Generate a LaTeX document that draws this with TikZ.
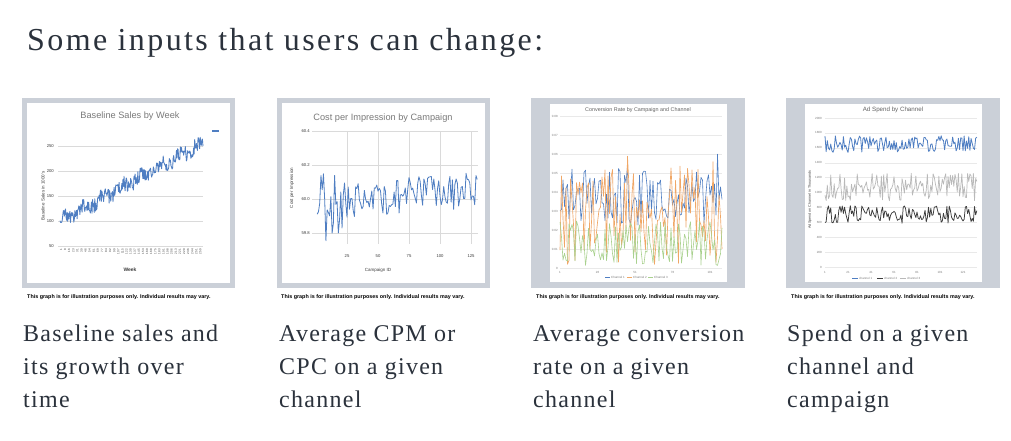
\documentclass[tikz,border=0pt]{standalone}
\usepackage{fontspec}
\setmainfont{Liberation Serif}
\newfontfamily\headfont[LetterSpace=7.5]{Liberation Serif}
\newfontfamily\bodyfont[LetterSpace=5.3]{Liberation Serif}
\newfontfamily\chartsans{Liberation Sans}

\definecolor{ink}{HTML}{2B323C}
\definecolor{framegrey}{HTML}{CBD0D8}
\definecolor{gridgrey}{HTML}{DADADA}
\definecolor{axisgrey}{HTML}{7A7A7A}
\definecolor{sblue}{HTML}{4F7EC2}
\definecolor{sorange}{HTML}{F0A766}
\definecolor{sgreen}{HTML}{A9D18E}
\definecolor{sdark}{HTML}{3C3C3C}
\definecolor{slight}{HTML}{B9B9B9}

\tikzset{
  panelframe/.style={fill=framegrey},
  plotbg/.style={fill=white},
  gridline/.style={draw=gridgrey, line width=0.4pt},
  series/.style={line width=0.65pt, line join=round},
  ticklbl/.style={inner sep=0, text=sdark, font=\chartsans\fontsize{4.2}{5}\selectfont},
  minilbl/.style={inner sep=0, text=axisgrey, font=\chartsans\fontsize{3}{3.5}\selectfont},
  axistitle/.style={inner sep=0, text=sdark, font=\chartsans\fontsize{4.5}{5}\selectfont},
  charttitle/.style={inner sep=0, text=axisgrey, font=\chartsans\fontsize{9.2}{10}\selectfont},
  smalltitle/.style={inner sep=0, text=sdark!80, font=\chartsans\fontsize{5.4}{6}\selectfont},
  disclaimer/.style={inner sep=0, anchor=west, text=black, font=\chartsans\bfseries\fontsize{5.4}{6}\selectfont},
  bodyline/.style={inner sep=0, anchor=base west, text=ink, font=\bodyfont\fontsize{24}{30}\selectfont},
}

\begin{document}
\begin{tikzpicture}[x=1pt,y=-1pt]
\useasboundingbox (0,0) rectangle (1011,441);
\fill[white] (0,0) rectangle (1011,441);

% heading
\node[inner sep=0, anchor=base west, text=ink, font=\headfont\fontsize{32}{36}\selectfont] (heading) at (27,51) {Some inputs that users can change:};

% ---------------- chart 1: baseline sales ----------------
\fill[panelframe] (22,98) rectangle (235,288);
\fill[plotbg] (27,103) rectangle (230,283);
\node[charttitle] (c1title) at (130,116) {Baseline Sales by Week};
\foreach \v in {50,100,150,200,250} {
  \draw[gridline] (58,{246-0.5*(\v-50)}) -- (203,{246-0.5*(\v-50)});
  \node[ticklbl, anchor=east] (c1y\v) at (54,{246-0.5*(\v-50)}) {\v};
}
\pgfmathsetseed{11}
\draw[series, sblue, line width=0.85pt] plot[domain=0:1, samples=260]
  ({60+143*\x},{246-0.5*(50+156*\x+6*sin(\x*2700)+15*rand)});
\foreach \i in {0,...,34} {
  \pgfmathtruncatemacro\wk{1+7.6*\i}
  \node[minilbl, text=sdark, rotate=90, anchor=east] (c1x\i) at ({61+4.1*\i},249) {\wk};
}
\node[axistitle, font=\chartsans\bfseries\fontsize{5}{6}\selectfont] (c1xt) at (130,270) {Week};
\node[axistitle, rotate=90] (c1yt) at (43,196) {Baseline Sales in 1000's};
\coordinate (c1legA) at (212,131);
\coordinate (c1legB) at (219,131);
\draw[sblue, line width=1.3pt] (c1legA) -- (c1legB);
\node[disclaimer] (c1note) at (27,297) {This graph is for illustration purposes only. Individual results may vary.};

% ---------------- chart 2: cost per impression ----------------
\fill[panelframe] (277,98) rectangle (490,288);
\fill[plotbg] (282,103) rectangle (485,283);
\node[charttitle] (c2title) at (383,118) {Cost per Impression by Campaign};
\foreach \v/\t in {0.4/60.4,0.2/60.2,0.0/60.0,-0.2/59.8} {
  \draw[gridline] (312,{199-170*\v}) -- (478,{199-170*\v});
  \node[ticklbl, anchor=east] (c2y\t) at (310,{199-170*\v}) {\t};
}
\foreach \n in {25,50,75,100,125} {
  \draw[gridline] ({316+1.24*\n},131) -- ({316+1.24*\n},244);
  \node[ticklbl] (c2x\n) at ({316+1.24*\n},256) {\n};
}
\pgfmathsetseed{23}
\draw[series, sblue, line width=0.8pt] plot[domain=1:130, samples=130]
  ({316+1.24*\x},{199-170*(-0.015+0.0005*\x+(0.105+0.17*exp(-((\x-12)/9)*((\x-12)/9)))*rand)});
\node[axistitle] (c2xt) at (378,270) {Campaign ID};
\node[axistitle, rotate=90] (c2yt) at (292,188) {Cost per Impression};
\node[disclaimer] (c2note) at (281,297) {This graph is for illustration purposes only. Individual results may vary.};

% ---------------- chart 3: conversion rate ----------------
\fill[panelframe] (531,98) rectangle (745,288);
\fill[plotbg] (550,104) rectangle (727,282);
\node[smalltitle] (c3title) at (638,110) {Conversion Rate by Campaign and Channel};
\foreach \k/\t in {0/0,1/0.01,2/0.02,3/0.03,4/0.04,5/0.05,6/0.06,7/0.07,8/0.08} {
  \draw[gridline, draw=gridgrey!60] (560,{268-19*\k}) -- (722,{268-19*\k});
  \node[minilbl, anchor=east] (c3y\k) at (558,{268-19*\k}) {\t};
}
\foreach \n in {1,26,51,76,101} {
  \node[minilbl] (c3x\n) at ({560+1.5*(\n-1)},272) {\n};
}
\pgfmathsetseed{5}
\draw[series, sblue, line width=0.6pt] plot[domain=1:109, samples=109]
  ({560+1.5*(\x-1)},{268-1900*(0.036+0.014*rand+0.018*rnd*rnd*rnd)});
\draw[series, sorange, line width=0.65pt] plot[domain=1:109, samples=109]
  ({560+1.5*(\x-1)},{268-1900*max(0.002,0.026+0.026*rand+0.03*rnd*rnd*rnd)});
\draw[series, sgreen, line width=0.6pt] plot[domain=1:109, samples=109]
  ({560+1.5*(\x-1)},{268-1900*max(0.001,0.013+0.012*rand)});
\foreach \c/\x/\t in {sblue/605/Channel 1,sorange/627/Channel 2,sgreen/648/Channel 3} {
  \coordinate (c3leg\x) at (\x,277);
  \draw[\c, line width=0.5pt] (c3leg\x) -- ++(5,0);
  \node[minilbl, anchor=west] (c3legt\x) at (\x+6,277) {\t};
}
\node[disclaimer] (c3note) at (536,297) {This graph is for illustration purposes only. Individual results may vary.};

% ---------------- chart 4: ad spend ----------------
\fill[panelframe] (786,98) rectangle (1000,288);
\fill[plotbg] (805,104) rectangle (982,282);
\node[smalltitle, font=\chartsans\fontsize{6.2}{7}\selectfont] (c4title) at (893,110) {Ad Spend by Channel};
\foreach \v in {0,200,400,600,800,1000,1200,1400,1600,1800,2000} {
  \draw[gridline, draw=gridgrey!60] (825,{267-0.0745*\v}) -- (977,{267-0.0745*\v});
  \node[minilbl, anchor=east] (c4y\v) at (822,{267-0.0745*\v}) {\v};
}
\foreach \n in {1,21,41,61,81,101,121} {
  \node[minilbl] (c4x\n) at ({825+1.15*(\n-1)},272) {\n};
}
\pgfmathsetseed{17}
\draw[series, slight, line width=0.7pt] plot[domain=1:133, samples=133]
  ({825+1.15*(\x-1)},{267-0.0745*(1075+185*rand)});
\draw[series, sdark, line width=0.75pt] plot[domain=1:133, samples=133]
  ({825+1.15*(\x-1)},{267-0.0745*(705+120*rand)});
\draw[series, sblue, line width=0.8pt] plot[domain=1:133, samples=133]
  ({825+1.15*(\x-1)},{267-0.0745*(1650+115*rand)});
\node[axistitle, rotate=90, font=\chartsans\fontsize{3.6}{4}\selectfont] (c4yt) at (810,200) {Ad Spend on Channel in Thousands};
\foreach \c/\x/\t in {sblue/852/channel 1,sdark/877/channel 2,slight/900/channel 3} {
  \coordinate (c4leg\x) at (\x,278);
  \draw[\c, line width=0.5pt] (c4leg\x) -- ++(6,0);
  \node[minilbl, anchor=west] (c4legt\x) at (\x+7,278) {\t};
}
\node[disclaimer] (c4note) at (791,297) {This graph is for illustration purposes only. Individual results may vary.};

% ---------------- descriptions ----------------
\node[bodyline] (d1a) at (23,341) {Baseline sales and};
\node[bodyline] (d1b) at (23,374) {its growth over};
\node[bodyline] (d1c) at (23,407) {time};
\node[bodyline] (d2a) at (279,341) {Average CPM or};
\node[bodyline] (d2b) at (279,374) {CPC on a given};
\node[bodyline] (d2c) at (279,407) {channel};
\node[bodyline] (d3a) at (533,341) {Average conversion};
\node[bodyline] (d3b) at (533,374) {rate on a given};
\node[bodyline] (d3c) at (533,407) {channel};
\node[bodyline] (d4a) at (787,341) {Spend on a given};
\node[bodyline] (d4b) at (787,374) {channel and};
\node[bodyline] (d4c) at (787,407) {campaign};
\end{tikzpicture}
\end{document}
